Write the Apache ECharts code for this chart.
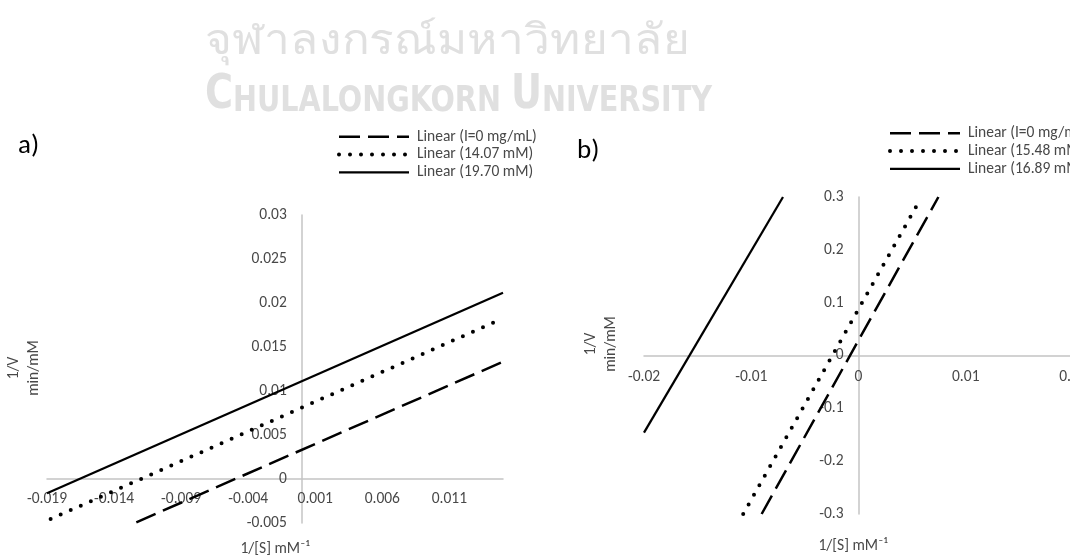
<!DOCTYPE html>
<html>
<head>
<meta charset="utf-8">
<script src="https://cdn.jsdelivr.net/npm/echarts@6/dist/echarts.min.js"></script>
<style>
html,body{margin:0;padding:0;background:#fff;}
#c{width:1070px;height:558px;}
</style>
</head>
<body>
<div id="c"></div>
<script>
// ---------- data ----------
const namesA = ['Linear (I=0 mg/mL)', 'Linear (14.07 mM)', 'Linear (19.70 mM)'];
const namesB = ['Linear (I=0 mg/mL)', 'Linear (15.48 mM)', 'Linear (16.89 mM)'];

// trend-line end points [1/[S], 1/V]
const aDashed = [[-0.01234, -0.00492], [0.015, 0.01333]];
const aDotted = [[-0.01873, -0.00455], [0.0148, 0.01812]];
const aSolid  = [[-0.019, -0.00163], [0.015, 0.02117]];

const bDashed = [[-0.00903, -0.3], [0.00745, 0.3]];
const bDotted = [[-0.01075, -0.3], [0.00574, 0.2949]];
const bSolid  = [[-0.02, -0.146], [-0.00704, 0.3]];

// axis ranges [min, max, interval]
const aXRange = [-0.019, 0.015, 0.005];
const aYRange = [-0.005, 0.03, 0.005];
const bXRange = [-0.02, 0.02, 0.01];
const bYRange = [-0.3, 0.3, 0.1];

// tick labels
const aXLabels = ['-0.019', '-0.014', '-0.009', '-0.004', '0.001', '0.006', '0.011'];
const aYLabels = ['-0.005', '0', '0.005', '0.01', '0.015', '0.02', '0.025', '0.03'];
const bXLabels = ['-0.02', '-0.01', '0', '0.01', '0.02'];
const bYLabels = ['-0.3', '-0.2', '-0.1', '0', '0.1', '0.2', '0.3'];

const panelLabels = ['a)', 'b)'];
const yTitle = '1/V\nmin/mM';
const xTitle = '1/[S] mM\u207B\u00B9';
const wmThai = 'จุฬาลงกรณ์มหาวิทยาลัย';
const wmEng = ['C', 'HULALONGKORN ', 'U', 'NIVERSITY'];

// ---------- layout / styles ----------
const FONT = 'Carlito, Calibri, "Open Sans", sans-serif';
const TXT = '#484848';
const AXIS = '#c4c4c4';
const WM = '#e0e0e0';
const FS = 15.5;

const gridA = { left: 47, top: 215, width: 456, height: 308 };
const gridB = { left: 644, top: 197, width: 429, height: 317 };

function lbl(list) {
  return function (v) {
    const s = String(Number(Number(v).toFixed(6)));
    return list.indexOf(s) >= 0 ? s : '';
  };
}
// offset that puts an axis on the other axis' zero
function zeroOff(range, size) { return -((0 - range[0]) / (range[1] - range[0])) * size; }

function xAxisCfg(gi, r, list, margin, off) {
  return {
    type: 'value', gridIndex: gi, min: r[0], max: r[1], interval: r[2], position: 'bottom', offset: off,
    axisLine: { show: true, onZero: false, lineStyle: { color: AXIS, width: 1.5 } },
    axisTick: { show: false }, splitLine: { show: false },
    axisLabel: { show: true, margin: margin, color: TXT, fontSize: FS, fontFamily: FONT,
      formatter: lbl(list), showMinLabel: true, showMaxLabel: true, hideOverlap: false }
  };
}
function yAxisCfg(gi, r, list, off) {
  return {
    type: 'value', gridIndex: gi, min: r[0], max: r[1], interval: r[2], position: 'left', offset: off,
    axisLine: { show: true, onZero: false, lineStyle: { color: AXIS, width: 1.5 } },
    axisTick: { show: false }, splitLine: { show: false },
    axisLabel: { show: true, margin: 15, color: TXT, fontSize: FS, fontFamily: FONT,
      formatter: lbl(list), showMinLabel: true, showMaxLabel: true, hideOverlap: false }
  };
}

const dashedStyle = { color: '#000', width: 2.5, type: [21, 8], cap: 'butt' };
const dottedStyle = { color: '#000', width: 4, type: [0, 11], cap: 'round' };
const solidStyle  = { color: '#000', width: 2.25, type: 'solid' };

function ser(name, gi, data, ls) {
  return {
    type: 'line', name: name, xAxisIndex: gi, yAxisIndex: gi, data: data,
    symbol: 'none', showSymbol: false, clip: true, silent: true,
    itemStyle: { color: '#000' }, lineStyle: ls, z: 3
  };
}

function legendCfg(names, left, top) {
  return {
    data: names, orient: 'vertical', left: left, top: top, padding: 0,
    itemWidth: 70, itemHeight: 14, itemGap: 0, selectedMode: false,
    itemStyle: { color: 'rgba(0,0,0,0)', borderWidth: 0, opacity: 0 },
    lineStyle: { width: 'inherit', type: 'inherit', cap: 'inherit', color: 'inherit' },
    textStyle: { color: TXT, fontSize: FS, fontFamily: FONT, lineHeight: 17.8, padding: [0, 0, 0, 3] }
  };
}

// watermark fitting
const mctx = document.createElement('canvas').getContext('2d');
function w(text, font) { mctx.font = font; return mctx.measureText(text).width; }
const engFontFam = '"DejaVu Sans Condensed", "Liberation Sans Narrow", "DejaVu Sans", sans-serif';
const engW = w(wmEng[0], 'bold 48px ' + engFontFam) + w(wmEng[1], 'bold 36px ' + engFontFam) +
             w(wmEng[2], 'bold 48px ' + engFontFam) + w(wmEng[3], 'bold 36px ' + engFontFam);
const engScale = 507 / engW;
const thaiScale = 485 / w(wmThai, '42px sans-serif');

const chart = echarts.init(document.getElementById('c'), null, { renderer: 'canvas' });
chart.setOption({
  animation: false,
  backgroundColor: '#fff',
  grid: [
    Object.assign({ containLabel: false, outerBoundsMode: 'none' }, gridA),
    Object.assign({ containLabel: false, outerBoundsMode: 'none' }, gridB)
  ],
  xAxis: [
    xAxisCfg(0, aXRange, aXLabels, 12, zeroOff(aYRange, gridA.height)),
    xAxisCfg(1, bXRange, bXLabels, 14, zeroOff(bYRange, gridB.height))
  ],
  yAxis: [
    yAxisCfg(0, aYRange, aYLabels, zeroOff(aXRange, gridA.width)),
    yAxisCfg(1, bYRange, bYLabels, zeroOff(bXRange, gridB.width))
  ],
  legend: [legendCfg(namesA, 337, 127.8), legendCfg(namesB, 888, 124.4)],
  series: [
    ser(namesA[0], 0, aDashed, dashedStyle),
    ser(namesA[1], 0, aDotted, dottedStyle),
    ser(namesA[2], 0, aSolid, solidStyle),
    ser(namesB[0], 1, bDashed, dashedStyle),
    ser(namesB[1], 1, bDotted, dottedStyle),
    ser(namesB[2], 1, bSolid, solidStyle)
  ],
  graphic: [
    { type: 'text', x: 205, y: 42, scaleX: thaiScale, z: -10, silent: true,
      style: { text: wmThai, fill: WM, fontSize: 42, fontFamily: 'sans-serif',
               align: 'left', verticalAlign: 'middle', textAlign: 'left', textVerticalAlign: 'middle' } },
    { type: 'text', x: 205, y: 120, scaleX: engScale, z: -10, silent: true,
      style: { text: '{b|' + wmEng[0] + '}{s|' + wmEng[1] + '}{b|' + wmEng[2] + '}{s|' + wmEng[3] + '}',
               fill: WM, align: 'left', verticalAlign: 'bottom', textAlign: 'left', textVerticalAlign: 'bottom',
               rich: { b: { fontSize: 48, fontWeight: 'bold', fontFamily: engFontFam, fill: WM, lineHeight: 40, verticalAlign: 'bottom' },
                       s: { fontSize: 36, fontWeight: 'bold', fontFamily: engFontFam, fill: WM, lineHeight: 40, verticalAlign: 'bottom' } } } },
    { type: 'text', x: 18, y: 146, silent: true,
      style: { text: panelLabels[0], fill: '#000', fontSize: 27, fontFamily: FONT,
               align: 'left', verticalAlign: 'middle', textAlign: 'left', textVerticalAlign: 'middle' } },
    { type: 'text', x: 577, y: 151, silent: true,
      style: { text: panelLabels[1], fill: '#000', fontSize: 27, fontFamily: FONT,
               align: 'left', verticalAlign: 'middle', textAlign: 'left', textVerticalAlign: 'middle' } },
    { type: 'text', x: 24, y: 368, rotation: Math.PI / 2, silent: true,
      style: { text: yTitle, fill: TXT, fontSize: FS, fontFamily: FONT, lineHeight: 20,
               align: 'center', verticalAlign: 'middle', textAlign: 'center', textVerticalAlign: 'middle' } },
    { type: 'text', x: 601, y: 344, rotation: Math.PI / 2, silent: true,
      style: { text: yTitle, fill: TXT, fontSize: FS, fontFamily: FONT, lineHeight: 20,
               align: 'center', verticalAlign: 'middle', textAlign: 'center', textVerticalAlign: 'middle' } },
    { type: 'text', x: 275, y: 549, silent: true,
      style: { text: xTitle, fill: TXT, fontSize: FS, fontFamily: FONT,
               align: 'center', verticalAlign: 'middle', textAlign: 'center', textVerticalAlign: 'middle' } },
    { type: 'text', x: 853, y: 546, silent: true,
      style: { text: xTitle, fill: TXT, fontSize: FS, fontFamily: FONT,
               align: 'center', verticalAlign: 'middle', textAlign: 'center', textVerticalAlign: 'middle' } }
  ]
});
</script>
</body>
</html>
